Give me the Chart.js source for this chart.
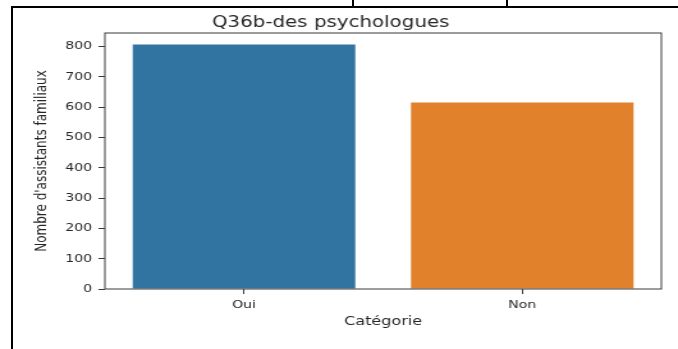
<!DOCTYPE html>
<html>
<head>
<meta charset="utf-8">
<title>Q36b-des psychologues</title>
<script src="https://cdn.jsdelivr.net/npm/chart.js@4.4.0/dist/chart.umd.min.js"></script>
<style>
  html, body { margin: 0; padding: 0; background: #fff; }
  body { width: 678px; height: 349px; position: relative; overflow: hidden; }
  /* the figure is drawn narrow and widened, like the exported image */
  #stretch { position: absolute; left: 0; top: 0; width: 530px; height: 349px;
             transform: scaleX(1.2792); transform-origin: 0 0; }
  .rule { position: absolute; background: #000; }
</style>
</head>
<body>
<div id="stretch"><canvas id="chart" width="530" height="349"></canvas></div>
<!-- table cell borders around the figure -->
<div class="rule" style="left:11px;top:6px;width:667px;height:2px"></div>
<div class="rule" style="left:11px;top:6px;width:2px;height:343px"></div>
<div class="rule" style="left:352px;top:0;width:2px;height:7px"></div>
<div class="rule" style="left:506px;top:0;width:2px;height:7px"></div>
<script>
const categories = ['Oui', 'Non'];
const counts = [807, 616];
const barColors = ['#3274a1', '#e1812c'];
const yTicks = [0, 100, 200, 300, 400, 500, 600, 700, 800];
const yMax = 845;

const INK = '#262626';
const SPINE = '#3a3a3a';

Chart.defaults.font.family = '"DejaVu Sans", sans-serif';
Chart.defaults.color = INK;

// matplotlib-style box around the plotting area
const frame = {
  id: 'frame',
  afterDatasetsDraw(chart) {
    const { ctx, chartArea: a } = chart;
    ctx.save();
    ctx.strokeStyle = SPINE;
    ctx.lineWidth = 1;
    ctx.strokeRect(a.left, a.top, a.right - a.left, a.bottom - a.top);
    ctx.restore();
  },
};

new Chart(document.getElementById('chart'), {
  type: 'bar',
  data: {
    labels: categories,
    datasets: [{
      data: counts,
      backgroundColor: barColors,
      borderWidth: 0,
      categoryPercentage: 0.8,
      barPercentage: 1,
    }],
  },
  options: {
    responsive: false,
    animation: false,
    layout: { padding: { left: 0, top: 0, right: 13, bottom: 0 } },
    plugins: {
      legend: { display: false },
      tooltip: { enabled: false },
      title: {
        display: true,
        text: 'Q36b-des psychologues',
        color: INK,
        font: { size: 15.5, weight: 'normal' },
        padding: { top: 13.5, bottom: 0.9 },
      },
    },
    scales: {
      x: {
        grid: { drawOnChartArea: false, drawTicks: true, tickLength: 5, offset: false, color: SPINE },
        border: { display: false },
        ticks: { color: INK, font: { size: 11 }, padding: 5 },
        title: { display: true, text: 'Catégorie', color: INK, font: { size: 12.5 }, padding: { top: 0, bottom: 20 } },
        afterFit: (s) => { s.height = 60; },
      },
      y: {
        min: 0,
        max: yMax,
        grid: { drawOnChartArea: false, drawTicks: true, tickLength: 5, color: SPINE },
        border: { display: false },
        ticks: { stepSize: 100, includeBounds: false, color: INK, font: { size: 11 }, padding: 5 },
        afterBuildTicks: (s) => { s.ticks = yTicks.map((v) => ({ value: v })); },
        title: { display: true, text: "Nombre d'assistants familiaux", color: INK, font: { size: 12 }, padding: { top: 26, bottom: 0 } },
        afterFit: (s) => { s.width = 82; },
      },
    },
  },
  plugins: [frame],
});
</script>
</body>
</html>
